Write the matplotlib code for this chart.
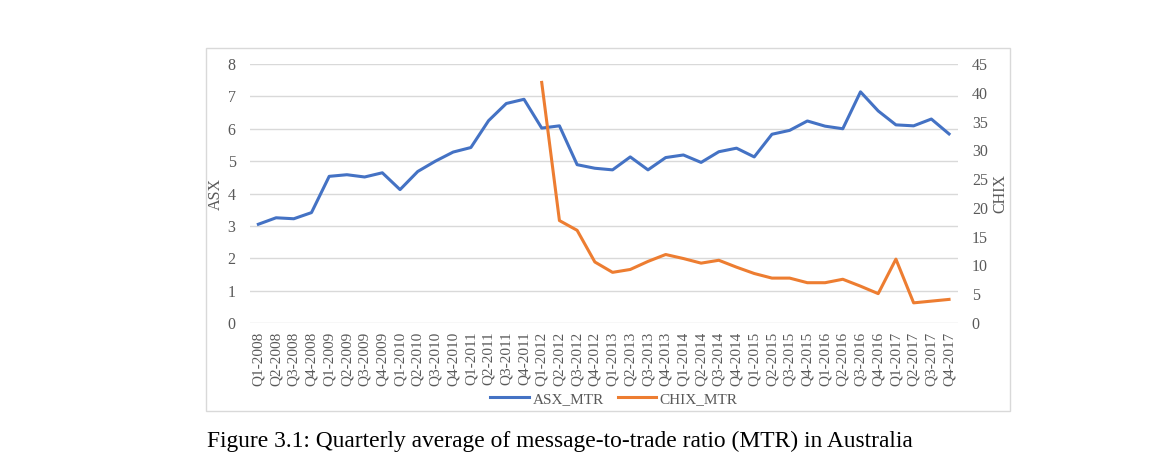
import matplotlib
matplotlib.use("Agg")
import matplotlib.pyplot as plt
from matplotlib.patches import Rectangle
from matplotlib.lines import Line2D

quarters = [f"Q{q}-{y}" for y in range(2008, 2018) for q in range(1, 5)]

asx_mtr = [3.05, 3.25, 3.22, 3.41, 4.53, 4.58, 4.51, 4.64, 4.12, 4.68,
           5.00, 5.28, 5.42, 6.25, 6.78, 6.91, 6.02, 6.09, 4.89, 4.78,
           4.73, 5.13, 4.73, 5.11, 5.19, 4.96, 5.29, 5.40, 5.13, 5.83,
           5.95, 6.24, 6.08, 6.00, 7.14, 6.55, 6.12, 6.09, 6.30, 5.84]

chix_start = 16  # CHIX series begins in Q1-2012
chix_mtr = [41.8, 17.8, 16.1, 10.6, 8.8, 9.3, 10.7, 11.9, 11.2, 10.4,
            10.9, 9.7, 8.6, 7.8, 7.8, 7.0, 7.0, 7.6, 6.4, 5.1,
            11.1, 3.5, 3.8, 4.1]

asx_ticks = list(range(0, 9))
chix_ticks = list(range(0, 50, 5))

BLUE = "#4472C4"
ORANGE = "#ED7D31"
GRID = "#D9D9D9"
TXT = "#595959"
SERIF = ["Liberation Serif", "DejaVu Serif"]

plt.rcParams["font.family"] = SERIF

fig = plt.figure(figsize=(11.55, 4.7), dpi=100)
W, H = 1155, 470

def fx(px):
    return px / W

def fy(py):
    return 1 - py / H

# chart frame
fig.patches.append(Rectangle((fx(206), fy(411)), fx(1010) - fx(206), fy(48) - fy(411),
                             transform=fig.transFigure, fill=False, edgecolor=GRID, lw=1.0))

ax = fig.add_axes([fx(249.5), fy(323), fx(957.9) - fx(249.5), fy(64) - fy(323)])
ax2 = ax.twinx()

x = list(range(len(quarters)))
ax.plot(x, asx_mtr, color=BLUE, lw=2.2, solid_joinstyle="round", zorder=3)
ax2.plot(list(range(chix_start, chix_start + len(chix_mtr))), chix_mtr, color=ORANGE, lw=2.2,
         solid_joinstyle="round", zorder=3)

ax.set_xlim(-0.5, len(quarters) - 0.5)
ax.set_ylim(0, 8)
ax2.set_ylim(0, 45)
ax.set_yticks(asx_ticks)
ax2.set_yticks(chix_ticks)
ax.yaxis.grid(True, color=GRID, lw=1.0)
ax.set_axisbelow(True)

for a in (ax, ax2):
    for s in a.spines.values():
        s.set_visible(False)
    a.tick_params(length=0, colors=TXT, labelsize=11.5)

ax.set_xticks(x)
ax.set_xticklabels(quarters, rotation=90, fontsize=11, color=TXT)
ax.tick_params(axis="x", pad=6)
ax.tick_params(axis="y", pad=10)
ax2.tick_params(axis="y", pad=10)

ax.set_ylabel("ASX", color=TXT, fontsize=11.5, labelpad=3)
ax2.set_ylabel("CHIX", color=TXT, fontsize=11.5, labelpad=3)

handles = [Line2D([], [], color=BLUE, lw=2.2), Line2D([], [], color=ORANGE, lw=2.2)]
fig.legend(handles, ["ASX_MTR", "CHIX_MTR"], loc="center", bbox_to_anchor=(fx(614), fy(399)),
           ncol=2, frameon=False, fontsize=11, labelcolor=TXT, handlelength=2.5,
           handletextpad=0.25, columnspacing=0.9, borderpad=0)

fig.text(fx(207), fy(447), "Figure 3.1: Quarterly average of message-to-trade ratio (MTR) in Australia",
         fontsize=16.9, color="black", va="baseline", ha="left")

fig.savefig("out.png", dpi=100, facecolor="white")
